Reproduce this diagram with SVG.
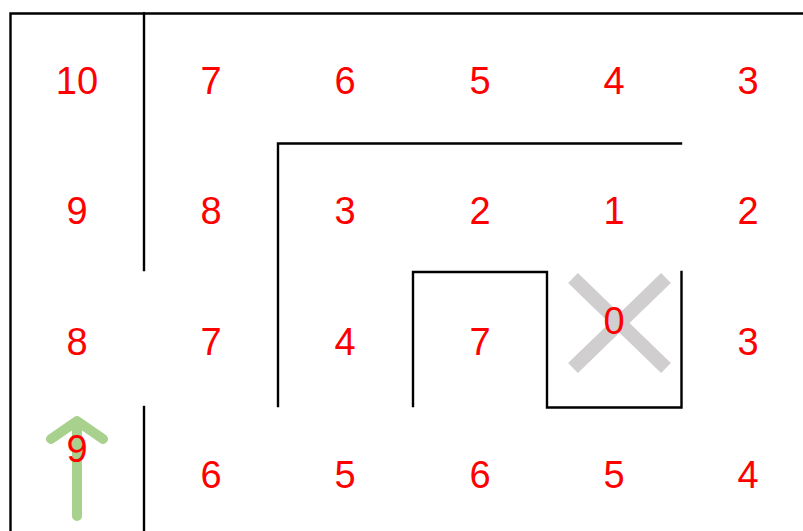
<svg xmlns="http://www.w3.org/2000/svg" width="803" height="531" viewBox="0 0 803 531">
<style>
.wall{fill:none;stroke:#000;stroke-width:2.4;stroke-linecap:square}
.n{font-family:"Liberation Sans",Arial,sans-serif;font-size:38px;fill:#FF0000;text-anchor:middle}
</style>
<rect width="803" height="531" fill="#fff"/>
<g id="walls">
<path class="wall" d="M10.5,531 V13.5 H803"/>
<path class="wall" d="M144,13.5 V270"/>
<path class="wall" d="M144,407 V531"/>
<path class="wall" d="M278,406 V143.5 H681"/>
<path class="wall" d="M413,406 V272 H547 V407.5 H681.5 V272"/>
</g>
<g id="cross">
<path d="M573,278 L666,368 M666,278 L573,368" stroke="#D0CECE" stroke-width="14" fill="none"/>
</g>
<g id="arrow">
<path d="M77,516 V424 M51,439 L77,421 L103,439" stroke="#A9D18E" stroke-width="10" stroke-linecap="round" stroke-linejoin="round" fill="none"/>
</g>
<g id="numbers">
<text class="n" x="77" y="94">10</text>
<text class="n" x="211" y="94">7</text>
<text class="n" x="345" y="94">6</text>
<text class="n" x="480" y="94">5</text>
<text class="n" x="614" y="94">4</text>
<text class="n" x="748" y="94">3</text>
<text class="n" x="77" y="224">9</text>
<text class="n" x="211" y="224">8</text>
<text class="n" x="345" y="224">3</text>
<text class="n" x="480" y="224">2</text>
<text class="n" x="614" y="224">1</text>
<text class="n" x="748" y="224">2</text>
<text class="n" x="77" y="355">8</text>
<text class="n" x="211" y="355">7</text>
<text class="n" x="345" y="355">4</text>
<text class="n" x="480" y="355">7</text>
<text class="n" x="614" y="334">0</text>
<text class="n" x="748" y="355">3</text>
<text class="n" x="77" y="462">9</text>
<text class="n" x="211" y="488">6</text>
<text class="n" x="345" y="488">5</text>
<text class="n" x="480" y="488">6</text>
<text class="n" x="614" y="488">5</text>
<text class="n" x="748" y="488">4</text>
</g>
</svg>
